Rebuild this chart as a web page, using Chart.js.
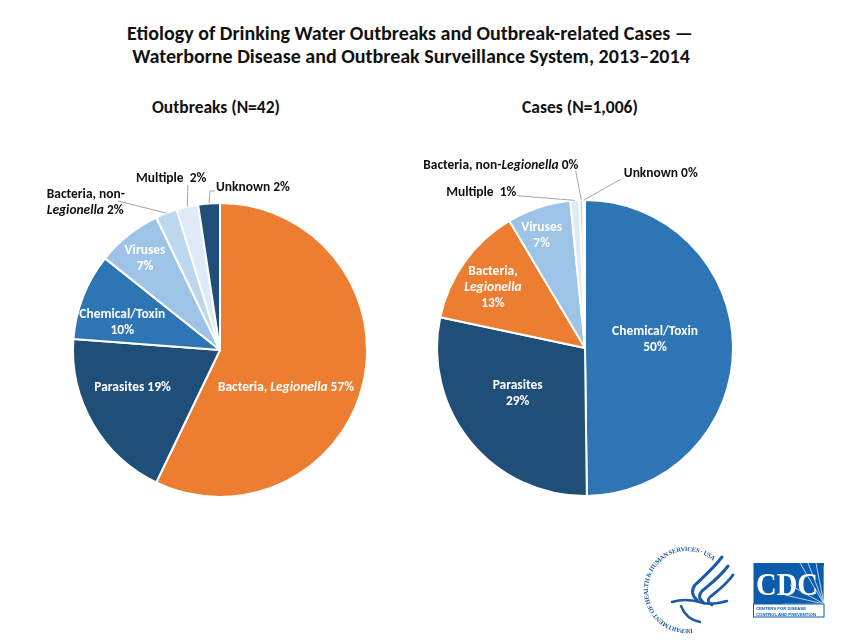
<!DOCTYPE html>
<html>
<head>
<meta charset="utf-8">
<script src="https://cdn.jsdelivr.net/npm/chart.js@4.4.1/dist/chart.umd.min.js"></script>
<style>
  html, body { margin: 0; padding: 0; background: #fff; }
  body { width: 849px; height: 643px; position: relative; overflow: hidden; font-family: Carlito, Lato, sans-serif; }
  .t { position: absolute; font-weight: bold; color: #111; white-space: nowrap; transform: translate(-50%, -50%); line-height: 1; }
  canvas { position: absolute; }
  svg { position: absolute; left: 0; top: 0; }
</style>
</head>
<body>

<div class="t" id="title1" style="left:410px; top:33px;">Etiology of Drinking Water Outbreaks and Outbreak-related Cases —</div>
<div class="t" id="title2" style="left:411px; top:56px;">Waterborne Disease and Outbreak Surveillance System, 2013–2014</div>
<div class="t" id="sub1" style="left:216px; top:108px;">Outbreaks (N=42)</div>
<div class="t" id="sub2" style="left:580px; top:108px;">Cases (N=1,006)</div>

<canvas id="c1" width="425" height="400" style="left:0px; top:130px;"></canvas>
<canvas id="c2" width="454" height="400" style="left:395px; top:130px;"></canvas>

<svg width="849" height="643" viewBox="0 0 849 643">
  <defs>
    <path id="hhsArc" d="M 692.4 628.6 A 39 39 0 1 1 714.6 562.4" fill="none"/>
  </defs>
  <text font-family="Liberation Serif, serif" font-size="6.4" fill="#1b5aa8" font-weight="bold">
    <textPath href="#hhsArc" textLength="156" lengthAdjust="spacing">DEPARTMENT OF HEALTH &amp; HUMAN SERVICES · USA</textPath>
  </text>
  <g fill="none" stroke="#1b5aa8" stroke-linecap="round" stroke-linejoin="round">
    <path d="M 722 557 C 713 569, 702 578, 695 585 C 691 590, 692 596, 697 600" stroke-width="3"/>
    <path d="M 728 566 C 720 577, 709 585, 702 591 C 698 595, 699 600, 704 603" stroke-width="3"/>
    <path d="M 733 575 C 726 585, 716 592, 710 597 C 707 600, 708 603, 712 605" stroke-width="2.8"/>
    <path d="M 672 602 C 682 599, 694 600, 703 603 C 712 605, 720 603, 727 601" stroke-width="2.6"/>
    <path d="M 681 606 C 684 614, 690 620, 700 622" stroke-width="2.4"/>
  </g>
  <rect x="753.5" y="563" width="70.5" height="41" fill="#0b5cad"/>
  <g stroke="#ffffff" stroke-width="0.8" opacity="0.9">
    <line x1="824" y1="604" x2="800" y2="563"/>
    <line x1="824" y1="604" x2="808" y2="563"/>
    <line x1="824" y1="604" x2="816" y2="563"/>
    <line x1="824" y1="604" x2="824" y2="566"/>
    <line x1="824" y1="604" x2="790" y2="585"/>
    <line x1="824" y1="604" x2="785" y2="595"/>
    <line x1="824" y1="604" x2="783" y2="604"/>
  </g>
  <text x="787" y="595" text-anchor="middle" font-family="Liberation Serif, serif" font-weight="bold" font-size="31" fill="#ffffff" textLength="62" lengthAdjust="spacingAndGlyphs">CDC</text>
  <rect x="753.5" y="604" width="70.5" height="13" fill="#ffffff" stroke="#0b5cad" stroke-width="1"/>
  <text x="756" y="610" font-family="Liberation Sans, sans-serif" font-weight="bold" font-size="4.4" fill="#0b5cad" textLength="50" lengthAdjust="spacingAndGlyphs">CENTERS FOR DISEASE</text>
  <text x="756" y="615.5" font-family="Liberation Sans, sans-serif" font-weight="bold" font-size="4.4" fill="#0b5cad" textLength="60" lengthAdjust="spacingAndGlyphs">CONTROL AND PREVENTION</text>
</svg>

<script>
// ---------------- DATA ----------------
const outbreakCategories = ['Bacteria, Legionella', 'Parasites', 'Chemical/Toxin', 'Viruses', 'Bacteria, non-Legionella', 'Multiple', 'Unknown'];
const outbreakCounts     = [24, 8, 4, 3, 1, 1, 1];

const caseCategories = ['Chemical/Toxin', 'Parasites', 'Bacteria, Legionella', 'Viruses', 'Multiple', 'Bacteria, non-Legionella', 'Unknown'];
const caseCounts     = [501, 287, 132, 70, 10, 4, 2];

// ---------------- STYLE ----------------
const categoryColors = {
  'Bacteria, Legionella': '#ED7D31',
  'Parasites': '#1F4E79',
  'Chemical/Toxin': '#2E75B6',
  'Viruses': '#9DC3E6',
  'Bacteria, non-Legionella': '#BDD7EE',
  'Multiple': '#DEEBF7',
  'Unknown': '#1F4E79'
};

const FONT_FAMILY = 'Carlito, Lato, sans-serif';

// label layout (positions in units of the pie radius, relative to the pie centre)
const outbreakLabels = {
  'Bacteria, Legionella':     { lines: ['Bacteria, *Legionella* {p}'], pos: [0.449, 0.254], color: '#fff' },
  'Parasites':                { lines: ['Parasites {p}'], pos: [-0.595, 0.254], color: '#fff' },
  'Chemical/Toxin':           { lines: ['Chemical/Toxin', '{p}'], pos: [-0.665, -0.188], color: '#fff' },
  'Viruses':                  { lines: ['Viruses', '{p}'], pos: [-0.510, -0.620], color: '#fff' },
  'Bacteria, non-Legionella': { lines: ['Bacteria, non-', '*Legionella* {p}'], pos: [-1.179, -1.0], align: 'left', color: '#111',
                                leader: [[-0.694, -1.014]] },
  'Multiple':                 { lines: ['Multiple  {p}'], pos: [-0.332, -1.163], color: '#111', leader: [[-0.218, -1.122]] },
  'Unknown':                  { lines: ['Unknown {p}'], pos: [0.224, -1.104], color: '#111', leader: [[-0.034, -1.082], [-0.068, -1.082]] }
};

const caseLabels = {
  'Chemical/Toxin':           { lines: ['Chemical/Toxin', '{p}'], pos: [0.473, -0.055], color: '#fff' },
  'Parasites':                { lines: ['Parasites', '{p}'], pos: [-0.455, 0.306], color: '#fff' },
  'Bacteria, Legionella':     { lines: ['Bacteria,', '*Legionella*', '{p}'], pos: [-0.622, -0.405], color: '#fff' },
  'Viruses':                  { lines: ['Viruses', '{p}'], pos: [-0.293, -0.761], color: '#fff' },
  'Multiple':                 { lines: ['Multiple  {p}'], pos: [-0.701, -1.052], color: '#111', leader: [[-0.461, -1.029]] },
  'Bacteria, non-Legionella': { lines: ['Bacteria, non-*Legionella* {p}'], pos: [-0.569, -1.232], color: '#111', leader: [[-0.063, -1.198]] },
  'Unknown':                  { lines: ['Unknown {p}'], pos: [0.512, -1.180], color: '#111', leader: [[0.241, -1.140]] }
};

// ---------------- TITLE FITTING ----------------
function fitWidth(id, target, base) {
  const el = document.getElementById(id);
  el.style.fontSize = base + 'px';
  const w = el.getBoundingClientRect().width;
  el.style.fontSize = (base * target / w) + 'px';
}
fitWidth('title1', 566, 17);
fitWidth('title2', 558, 17);
fitWidth('sub1', 128, 14);
fitWidth('sub2', 116, 14);

// ---------------- LABEL PLUGIN ----------------
function drawRich(ctx, text, x, y, align, color, size) {
  const parts = text.split('*').map((s, i) => ({ s, it: i % 2 === 1 })).filter(p => p.s.length);
  const fontOf = it => (it ? 'italic ' : '') + 'bold ' + size + 'px ' + FONT_FAMILY;
  let total = 0;
  parts.forEach(p => { ctx.font = fontOf(p.it); p.w = ctx.measureText(p.s).width; total += p.w; });
  let cx = align === 'left' ? x : x - total / 2;
  ctx.fillStyle = color;
  ctx.textBaseline = 'middle';
  ctx.textAlign = 'left';
  parts.forEach(p => { ctx.font = fontOf(p.it); ctx.fillText(p.s, cx, y); cx += p.w; });
}

const sliceLabelPlugin = {
  id: 'sliceLabels',
  afterDatasetsDraw(chart, args, opts) {
    const ctx = chart.ctx;
    const meta = chart.getDatasetMeta(0);
    const a0 = meta.data[0];
    const cx = a0.x, cy = a0.y, r = a0.outerRadius;
    const values = chart.data.datasets[0].data;
    const cats = chart.data.labels;
    const total = values.reduce((a, b) => a + b, 0);
    ctx.font = 'bold 12px ' + FONT_FAMILY;
    const size = 12 * 86 / ctx.measureText('Chemical/Toxin').width;
    const lh = 16;
    cats.forEach((cat, i) => {
      const spec = opts.specs[cat];
      if (!spec) return;
      const arc = meta.data[i];
      const pct = Math.round(values[i] / total * 100) + '%';
      if (spec.leader) {
        ctx.save();
        ctx.strokeStyle = '#a6a6a6';
        ctx.lineWidth = 1;
        ctx.beginPath();
        spec.leader.forEach((p, k) => {
          const X = cx + p[0] * r, Y = cy + p[1] * r;
          if (k === 0) ctx.moveTo(X, Y); else ctx.lineTo(X, Y);
        });
        const mid = (arc.startAngle + arc.endAngle) / 2;
        ctx.lineTo(cx + r * Math.cos(mid), cy + r * Math.sin(mid));
        ctx.stroke();
        ctx.restore();
      }
      const lines = spec.lines.map(l => l.replace('{p}', pct));
      const x0 = cx + spec.pos[0] * r;
      const y0 = cy + spec.pos[1] * r - (lines.length - 1) * lh / 2;
      lines.forEach((line, k) => drawRich(ctx, line, x0, y0 + k * lh, spec.align || 'center', spec.color, size));
    });
  }
};

function makePie(canvasId, cats, vals, specs, padding) {
  return new Chart(document.getElementById(canvasId), {
    type: 'pie',
    data: {
      labels: cats,
      datasets: [{
        data: vals,
        backgroundColor: cats.map(c => categoryColors[c]),
        borderColor: '#ffffff',
        borderWidth: 2
      }]
    },
    options: {
      responsive: false,
      animation: false,
      layout: { padding },
      plugins: {
        legend: { display: false },
        tooltip: { enabled: false },
        sliceLabels: { specs }
      }
    },
    plugins: [sliceLabelPlugin]
  });
}

makePie('c1', outbreakCategories, outbreakCounts, outbreakLabels, { left: 72, top: 72, right: 57, bottom: 32 });
makePie('c2', caseCategories, caseCounts, caseLabels, { left: 41, top: 69, right: 115, bottom: 33 });
</script>
</body>
</html>
